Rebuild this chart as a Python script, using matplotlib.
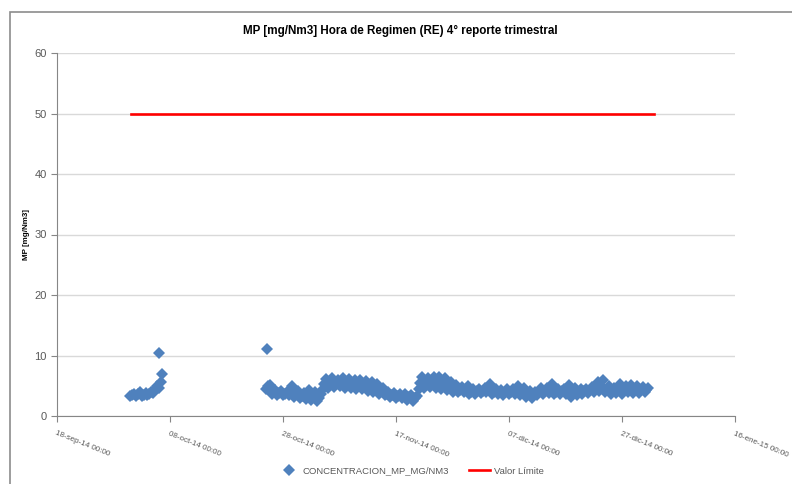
import matplotlib
matplotlib.use("Agg")
import matplotlib.pyplot as plt
import pandas as pd
from matplotlib.patches import Rectangle

# Readings (mg/Nm3) per day at 00:00 / 08:00 / 16:00, first block of measurements
seg1_start = "2014-10-01"
seg1_low = [3.3, 3.3, 3.3, 3.4, 3.8, 4.6]
seg1_mid = [3.5, 3.6, 3.5, 3.6, 4.4, 5.6]
seg1_high = [3.6, 3.9, 3.8, 3.9, 5.0, 7.0]

# Second block, 25-oct-14 to 31-dic-14
seg2_start = "2014-10-25"
seg2_low = [4.5, 3.6, 3.5, 3.4, 3.5, 3.2, 2.9,
            2.8, 2.6, 2.4, 4.4, 4.7, 4.8, 4.9, 4.6, 4.6, 4.5, 4.4, 4.2, 4.0,
            3.6, 3.4, 3.2, 3.0, 2.9, 2.7, 2.5, 4.5, 4.7, 4.8, 4.6, 4.5, 4.3,
            4.0, 3.9, 4.0, 3.6,
            3.7, 3.8, 3.9, 3.6, 3.6, 3.5, 3.6, 3.7, 3.5, 3.2, 3.0, 3.5, 3.7,
            3.8, 3.6, 3.7, 3.6, 3.2, 3.4, 3.7, 3.8, 4.0, 4.1, 3.9, 3.7, 3.8,
            3.6, 3.9, 3.8, 3.8, 4.0]
seg2_mid = [4.9, 3.9, 3.8, 3.7, 4.2, 3.6, 3.3,
            3.5, 3.2, 3.0, 5.3, 5.5, 5.4, 5.6, 5.3, 5.2, 5.2, 5.1, 4.9, 4.6,
            4.1, 3.7, 3.5, 3.3, 3.3, 3.1, 2.9, 5.4, 5.5, 5.6, 5.5, 5.3, 5.0,
            4.6, 4.3, 4.4, 4.0,
            4.1, 4.2, 4.6, 4.0, 4.0, 3.9, 4.0, 4.3, 4.1, 3.7, 3.5, 4.0, 4.1,
            4.5, 4.0, 4.1, 4.4, 3.9, 3.9, 4.1, 4.3, 4.8, 5.0, 4.4, 4.1, 4.5,
            4.3, 4.5, 4.3, 4.3, 4.3]
seg2_high = [5.2, 4.3, 4.2, 4.0, 4.9, 4.1, 3.8,
             4.3, 3.9, 3.6, 6.1, 6.2, 6.0, 6.3, 6.1, 5.9, 6.0, 5.8, 5.6, 5.3,
             4.6, 4.0, 3.8, 3.6, 3.7, 3.5, 3.3, 6.4, 6.3, 6.5, 6.4, 6.2, 5.7,
             5.2, 4.8, 4.9, 4.4,
             4.5, 4.6, 5.3, 4.5, 4.3, 4.4, 4.4, 5.0, 4.7, 4.2, 4.0, 4.6, 4.6,
             5.3, 4.5, 4.5, 5.2, 4.6, 4.4, 4.5, 4.8, 5.6, 6.0, 5.0, 4.6, 5.3,
             5.0, 5.1, 4.9, 4.8, 4.6]

# Isolated peaks
peak_times = ["2014-10-06 01:00", "2014-10-25 04:00"]
peak_values = [10.4, 11.1]

# Limit value line
limit_value = 50
limit_start = "2014-10-01 02:00"
limit_end = "2015-01-01 16:00"

x_start = "2014-09-18"
x_end = "2015-01-16"
y_ticks = [0, 10, 20, 30, 40, 50, 60]
month_names = {9: "sep", 10: "oct", 11: "nov", 12: "dic", 1: "ene"}

BLUE = "#4F81BD"
GRID = "#D9D9D9"
AXIS = "#868686"
TXT = "#595959"

plt.rcParams["font.family"] = ["Liberation Sans", "DejaVu Sans"]


def _points(start, *rows):
    days = pd.date_range(start, periods=len(rows[0]), freq="D")
    times, vals = [], []
    for i, row in enumerate(rows):
        times += list(days + pd.Timedelta(hours=8 * i))
        vals += list(row)
    return times, vals


t1, v1 = _points(seg1_start, seg1_low, seg1_mid, seg1_high)
t2, v2 = _points(seg2_start, seg2_low, seg2_mid, seg2_high)
times = t1 + t2 + list(pd.to_datetime(peak_times))
values = v1 + v2 + peak_values

fig = plt.figure(figsize=(7.92, 4.84), dpi=100)
fig.patch.set_facecolor("white")
fig.patches.append(Rectangle((10 / 792, -0.01), 1.0, 1 - 12.5 / 484 + 0.01,
                             transform=fig.transFigure, fill=False,
                             edgecolor="#8c8c8c", linewidth=1.2))

ax = fig.add_axes([57 / 792, 68 / 484, (735 - 57) / 792, (416 - 53) / 484])
ax.set_facecolor("white")

ax.plot(times, values, linestyle="none", marker="D", markersize=5.8,
        color=BLUE, markeredgewidth=0, label="CONCENTRACION_MP_MG/NM3")
ax.plot(pd.to_datetime([limit_start, limit_end]), [limit_value, limit_value],
        color="#FF0000", linewidth=1.9, label="Valor Límite")

ax.set_xlim(pd.Timestamp(x_start), pd.Timestamp(x_end))
ax.set_ylim(0, 60)
ax.set_yticks(y_ticks)
xt = pd.date_range(x_start, x_end, freq="20D")
ax.set_xticks(xt)
ax.set_xticklabels([f"{d.day:02d}-{month_names[d.month]}-{d.strftime('%y')} 00:00" for d in xt],
                   rotation=-22, ha="left", va="top", rotation_mode="anchor",
                   fontsize=5.8, color=TXT)
ax.tick_params(axis="y", labelsize=8, labelcolor=TXT, length=4, color=AXIS, width=0.8)
ax.tick_params(axis="x", length=4, color=AXIS, width=0.8, pad=6)

ax.grid(True, axis="y", color=GRID, linewidth=1)
ax.set_axisbelow(True)
for s in ["top", "right"]:
    ax.spines[s].set_visible(False)
for s in ["left", "bottom"]:
    ax.spines[s].set_color(AXIS)
    ax.spines[s].set_linewidth(0.8)

ax.set_ylabel("MP [mg/Nm3]", fontsize=5.8, fontweight="bold")
ax.yaxis.set_label_coords(-27 / 678, 0.5)
fig.text(400 / 792, 1 - 31 / 484, "MP [mg/Nm3] Hora de Regimen (RE) 4° reporte trimestral",
         ha="center", va="center", fontsize=8.4, fontweight="bold")

ax.legend(loc="center", bbox_to_anchor=(411 / 792, 13 / 484), bbox_transform=fig.transFigure,
          ncol=2, frameon=False, fontsize=6.8, handlelength=2.2, columnspacing=2.1,
          handletextpad=0.4, labelcolor=TXT)

fig.savefig("out.png", dpi=100, facecolor="white")
